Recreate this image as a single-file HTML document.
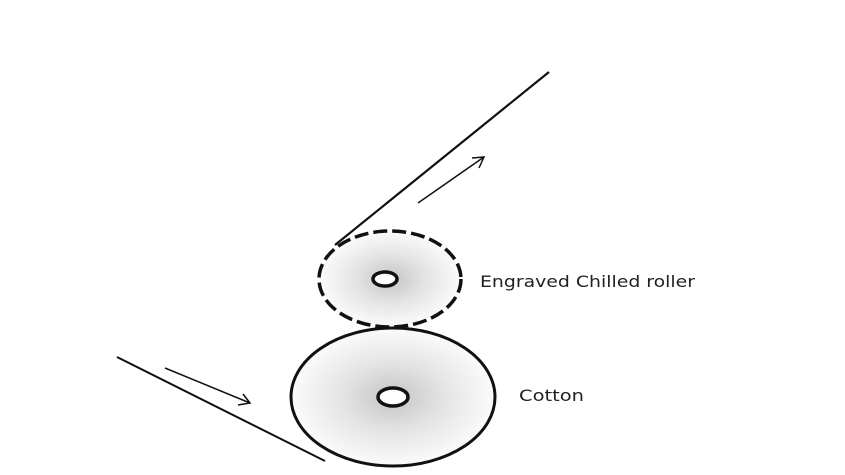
<!DOCTYPE html>
<html><head><style>body{margin:0;background:#fff}svg{display:block}</style></head><body>
<svg width="845" height="475" viewBox="0 0 845 475" xmlns="http://www.w3.org/2000/svg">
<defs>
<radialGradient id="g" cx="50%" cy="50%" r="50%">
<stop offset="0" stop-color="#c4c4c4"/><stop offset="0.5" stop-color="#e4e4e4"/><stop offset="1" stop-color="#fbfbfb"/>
</radialGradient>
</defs>
<line x1="335" y1="245" x2="549" y2="72" stroke="#111" stroke-width="2.2"/>
<line x1="117" y1="357" x2="325" y2="461" stroke="#111" stroke-width="2"/>
<ellipse cx="390" cy="279" rx="71" ry="48" fill="url(#g)" stroke="#111" stroke-width="3.5" stroke-dasharray="14 5"/>
<ellipse cx="385" cy="279" rx="12" ry="7" fill="#fff" stroke="#111" stroke-width="3.5"/>
<ellipse cx="393" cy="397" rx="102" ry="69" fill="url(#g)" stroke="#111" stroke-width="3"/>
<ellipse cx="393" cy="397" rx="15" ry="9" fill="#fff" stroke="#111" stroke-width="3.5"/>
<line x1="418" y1="203" x2="484" y2="157" stroke="#111" stroke-width="1.5"/>
<polyline points="472,158 484,157 479,168" fill="none" stroke="#111" stroke-width="1.5"/>
<line x1="165" y1="368" x2="250" y2="403" stroke="#111" stroke-width="1.5"/>
<polyline points="238,405 250,403 243,394" fill="none" stroke="#111" stroke-width="1.5"/>
<text x="480" y="287" font-family="DejaVu Sans, sans-serif" font-size="16" fill="#222" textLength="215" lengthAdjust="spacingAndGlyphs">Engraved Chilled roller</text>
<text x="519" y="401" font-family="DejaVu Sans, sans-serif" font-size="16" fill="#222" textLength="65" lengthAdjust="spacingAndGlyphs">Cotton</text>
</svg>
</body></html>
